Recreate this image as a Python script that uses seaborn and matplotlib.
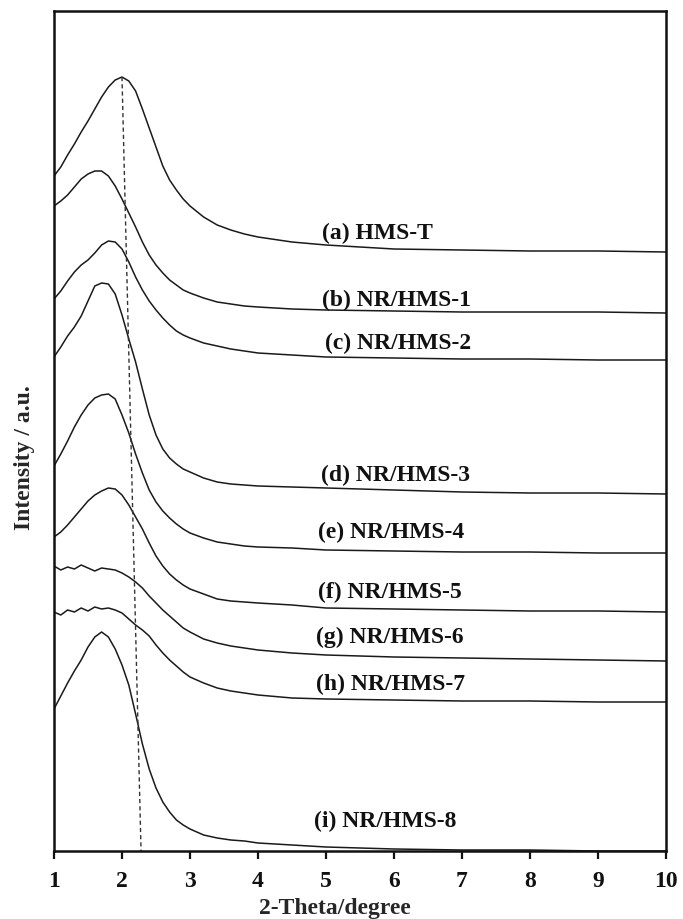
import numpy as np
import pandas as pd
import matplotlib
matplotlib.use("Agg")
import matplotlib.pyplot as plt
import seaborn as sns

# ---- data ----
two_theta = [1.0, 1.1, 1.2, 1.3, 1.4, 1.5, 1.6, 1.7, 1.8, 1.9, 2.0, 2.1, 2.2, 2.3,
             2.4, 2.5, 2.6, 2.7, 2.8, 2.9, 3.0, 3.2, 3.4, 3.6, 3.8, 4.0, 4.5, 5.0,
             6.0, 7.0, 8.0, 9.0, 10.0]

int_a = [675, 684, 696, 707, 719, 730, 742, 754, 764, 771, 774, 770, 760, 742, 723, 704, 685,
         671, 661, 652, 645, 634, 626, 621, 617, 614, 609, 606, 602, 601, 600, 600, 599]
int_b = [645, 650, 656, 664, 672, 677, 680, 680, 675, 665, 652, 638, 624, 609, 596, 586, 578,
         571, 566, 561, 558, 553, 549, 547, 545, 544, 542, 541, 540, 539, 539, 539, 538]
int_c = [552, 560, 570, 579, 586, 591, 598, 606, 610, 609, 602, 589, 574, 561, 550, 541, 533,
         526, 520, 516, 513, 508, 505, 502, 500, 498, 496, 494, 493, 492, 492, 491, 491]
int_d = [494, 504, 515, 524, 535, 550, 565, 568, 567, 557, 536, 512, 489, 462, 436, 416, 402,
         393, 387, 382, 379, 373, 369, 367, 366, 365, 364, 363, 361, 359, 358, 358, 357]
int_e = [385, 397, 410, 424, 436, 446, 453, 456, 457, 452, 436, 418, 397, 378, 361, 349, 340,
         333, 327, 322, 318, 313, 309, 307, 305, 304, 303, 301, 300, 299, 299, 298, 298]
int_f = [314, 319, 326, 334, 342, 350, 356, 360, 363, 362, 356, 346, 334, 322, 308, 295, 285,
         277, 271, 266, 262, 257, 252, 250, 249, 248, 246, 243, 242, 241, 240, 240, 239]
int_g = [285, 281, 284, 282, 286, 283, 280, 283, 282, 281, 278, 274, 269, 263, 255, 248, 241,
         235, 229, 223, 219, 212, 208, 205, 203, 201, 198, 196, 194, 193, 192, 191, 190]
int_h = [239, 236, 241, 239, 243, 240, 244, 242, 243, 241, 238, 232, 226, 221, 215, 206, 198,
         191, 185, 179, 174, 168, 163, 160, 158, 156, 153, 152, 151, 150, 150, 149, 149]
int_i = [142, 155, 168, 180, 191, 204, 214, 219, 214, 202, 186, 166, 137, 107, 82, 63, 49,
         39, 31, 26, 22, 16, 13, 11, 10, 8, 6, 4, 2, 1, 1, 0, 0]

sample_names = ["(a) HMS-T", "(b) NR/HMS-1", "(c) NR/HMS-2", "(d) NR/HMS-3", "(e) NR/HMS-4",
                "(f) NR/HMS-5", "(g) NR/HMS-6", "(h) NR/HMS-7", "(i) NR/HMS-8"]
label_x = [4.94, 4.94, 4.98, 4.92, 4.88, 4.88, 4.86, 4.86, 4.83]
label_y = [619, 552, 509, 377, 320, 260, 215, 168, 31]

dash_x = [2.0, 2.28]
dash_y = [774, 0]

x_ticks = [1, 2, 3, 4, 5, 6, 7, 8, 9, 10]

series = [int_a, int_b, int_c, int_d, int_e, int_f, int_g, int_h, int_i]
df = pd.concat([pd.DataFrame({"two_theta": two_theta, "intensity": s, "sample": n})
                for s, n in zip(series, sample_names)], ignore_index=True)

# ---- style ----
sns.set_style("ticks")
plt.rcParams["font.family"] = ["Liberation Serif", "DejaVu Serif"]
plt.rcParams["font.weight"] = "bold"

fig = plt.figure(figsize=(6.83, 9.2), dpi=100)
ax = fig.add_axes([54 / 683, 68 / 920, 612 / 683, 840 / 920])

sns.lineplot(data=df, x="two_theta", y="intensity", units="sample", estimator=None,
             color="#1a1a1a", linewidth=1.1, ax=ax, sort=False, legend=False)

ax.plot(dash_x, dash_y, color="#333333", linewidth=1.0, linestyle=(0, (3, 2.2)))

for name, lx, ly in zip(sample_names, label_x, label_y):
    ax.text(lx, ly, name, ha="left", va="center", fontsize=17, fontweight="bold",
            color="#111111")

ax.set_xlim(1, 10)
ax.set_ylim(0, 840)
ax.set_xticks(x_ticks)
ax.set_xticklabels([str(t) for t in x_ticks], fontsize=17, fontweight="bold")
ax.set_yticks([])
ax.tick_params(axis="x", direction="out", length=6, width=1.6, pad=8, colors="#111111")

for sp in ax.spines.values():
    sp.set_visible(True)
    sp.set_linewidth(1.8)
    sp.set_color("#111111")

ax.set_xlabel("2-Theta/degree", fontsize=17, fontweight="bold")
ax.xaxis.set_label_coords(0.459, -0.0667)
ax.xaxis.label.set_va("center")
ax.set_ylabel("Intensity / a.u.", fontsize=17, fontweight="bold")
ax.yaxis.set_label_coords(-0.049, 0.469)
ax.yaxis.label.set_va("center")

fig.savefig("out.png", dpi=100)
